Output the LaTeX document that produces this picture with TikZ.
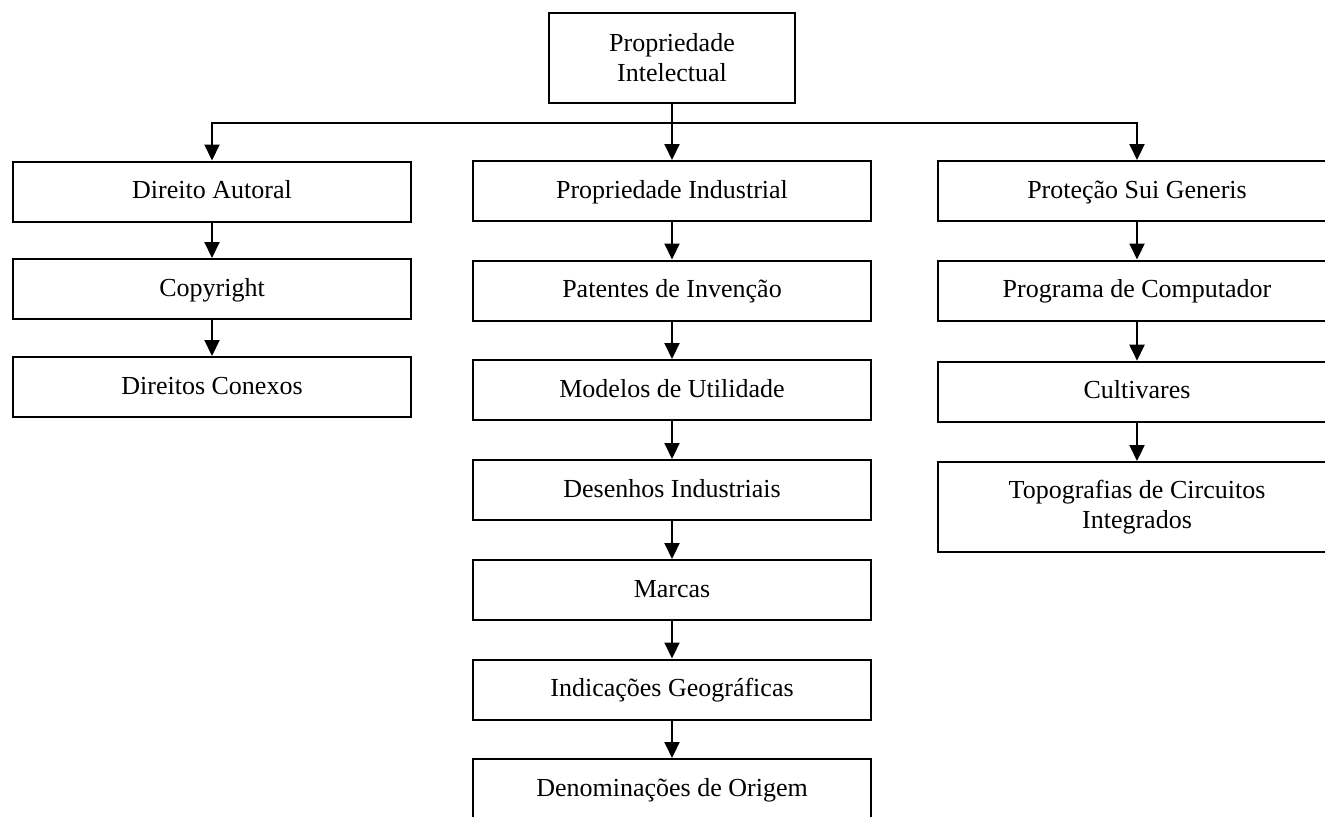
\documentclass[tikz,border=0pt]{standalone}
\usepackage{fontspec}
\setmainfont{Liberation Serif}
\usetikzlibrary{arrows.meta}

\tikzset{every picture/.style={line width=1pt}}
\tikzset{
  bloco/.style={draw, line width=1pt, minimum width=199pt, minimum height=30pt,
    inner sep=0pt, align=center, font=\fontsize{13}{15}\selectfont},
  caixa/.style={bloco, text height=10pt, text depth=3pt},
  seta/.style={-{Triangle[length=8pt,width=7.5pt]}, line width=1pt}
}

\begin{document}
\begin{tikzpicture}[x=0.5pt,y=0.5pt,yscale=-1,xscale=1]
\useasboundingbox (0,0) rectangle (1325,816);

%Top box
\node[bloco, minimum width=123pt, minimum height=45pt] (pi) at (672,58) {Propriedade\\Intelectual};

%Left column
\node[caixa] (da) at (212,191.5) {Direito Autoral};
\node[caixa] (cr) at (212,289) {Copyright};
\node[caixa] (dc) at (212,387) {Direitos Conexos};

%Middle column
\node[caixa] (pind) at (672,191) {Propriedade Industrial};
\node[caixa] (pat) at (672,290.5) {Patentes de Invenção};
\node[caixa] (mod) at (672,390) {Modelos de Utilidade};
\node[caixa] (des) at (672,490) {Desenhos Industriais};
\node[caixa] (mar) at (672,590) {Marcas};
\node[caixa] (ind) at (672,689.5) {Indicações Geográficas};
\node[caixa] (den) at (672,789) {Denominações de Origem};

%Right column
\node[caixa] (psg) at (1137,191) {Proteção Sui Generis};
\node[caixa] (prog) at (1137,290.5) {Programa de Computador};
\node[caixa] (cult) at (1137,391.7) {Cultivares};
\node[bloco, minimum height=45pt] (topo) at (1137,507) {Topografias de Circuitos\\Integrados};

%Branch lines
\coordinate (ramo) at (672,123);
\draw[seta] (pi.south) -- (pind.north);
\draw[seta] (ramo) -| (da.north);
\draw[seta] (ramo) -| (psg.north);

%Chains
\foreach \a/\b in {da/cr,cr/dc,pind/pat,pat/mod,mod/des,des/mar,mar/ind,ind/den,psg/prog,prog/cult,cult/topo}
  \draw[seta] (\a) -- (\b);

\end{tikzpicture}
\end{document}
